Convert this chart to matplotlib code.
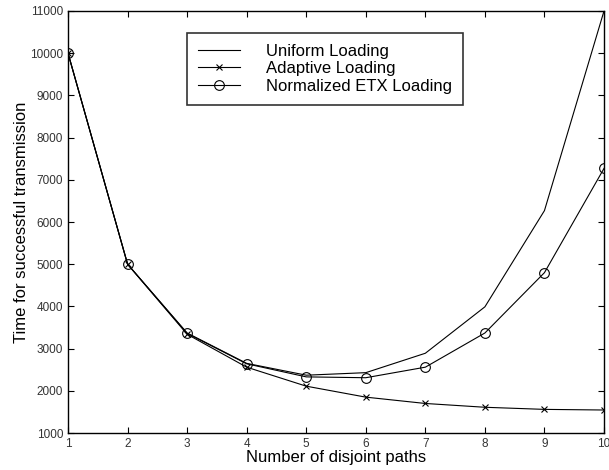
import matplotlib
matplotlib.use("Agg")
import matplotlib.pyplot as plt

plt.rcParams['font.family'] = ['Liberation Sans', 'DejaVu Sans']

paths = [1, 2, 3, 4, 5, 6, 7, 8, 9, 10]
uniform = [10000, 5000, 3370, 2650, 2370, 2430, 2890, 3990, 6270, 11000]
adaptive = [10000, 5000, 3340, 2560, 2110, 1850, 1700, 1610, 1560, 1545]
etx = [10000, 5000, 3360, 2640, 2330, 2310, 2560, 3370, 4800, 7270]

fig = plt.figure(figsize=(6.09, 4.70), dpi=100)
ax = fig.add_axes([0.1117, 0.0787, 0.8801, 0.8979])

ax.plot(paths, uniform, color='black', lw=0.8, label='Uniform Loading')
ax.plot(paths, adaptive, color='black', lw=0.8, marker='x', ms=4, mew=0.8,
        label='Adaptive Loading')
ax.plot(paths, etx, color='black', lw=0.8, marker='o', ms=7, mfc='none',
        mew=0.8, label='Normalized ETX Loading')

ax.set_xlim(1, 10)
ax.set_ylim(1000, 11000)
ax.set_xticks(paths)
ax.set_yticks(range(1000, 11001, 1000))
ax.tick_params(direction='in', top=True, right=True, labelsize=8.5, length=4,
               colors='black', labelcolor='#333333')
for s in ax.spines.values():
    s.set_linewidth(1.0)

ax.set_xlabel('Number of disjoint paths', fontsize=12, labelpad=0)
ax.set_ylabel('Time for successful transmission', fontsize=12, labelpad=1)

leg = ax.legend(loc='upper left', bbox_to_anchor=(0.222, 0.948), borderaxespad=0,
                fontsize=12, frameon=True, fancybox=False, handlelength=2.5,
                borderpad=0.65, labelspacing=0.15, handletextpad=1.6)
leg.get_frame().set_edgecolor('black')
leg.get_frame().set_linewidth(1.2)

fig.savefig('out.png', dpi=100)
